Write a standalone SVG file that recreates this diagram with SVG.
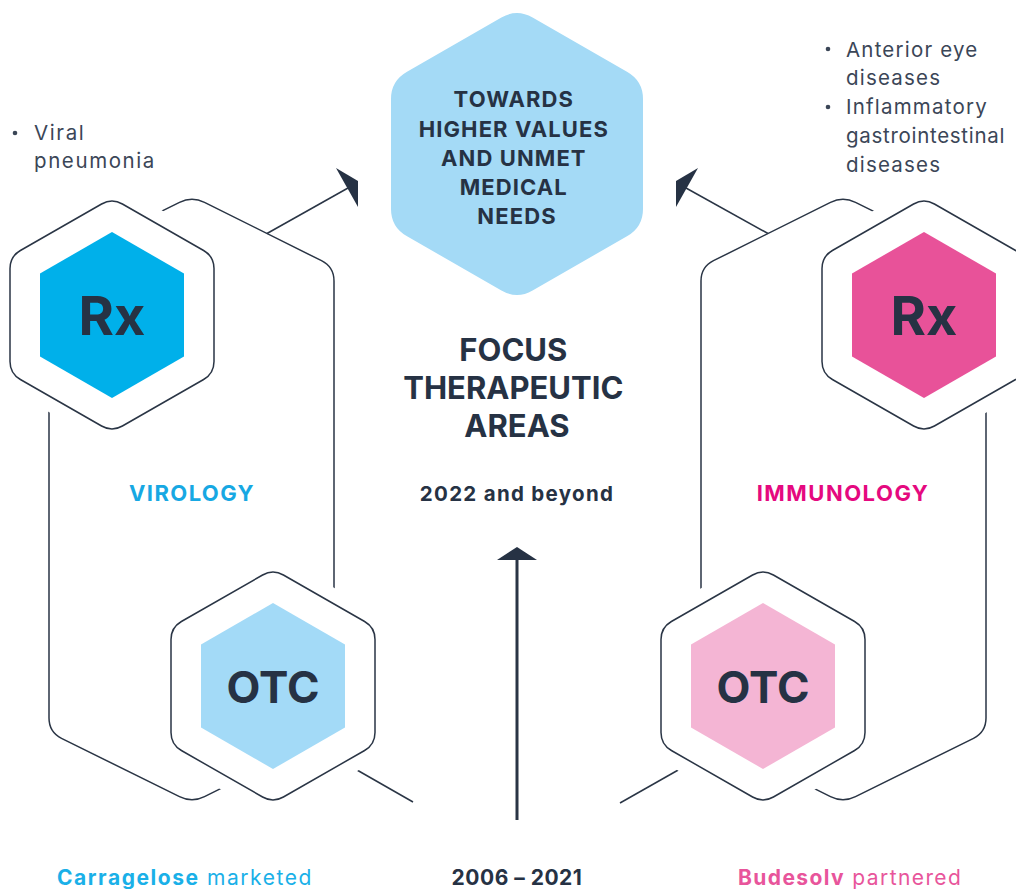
<svg xmlns="http://www.w3.org/2000/svg" xmlns:xlink="http://www.w3.org/1999/xlink" width="1016" height="889" viewBox="0 0 1016 889">
<defs>
<style>
.frame{fill:none;stroke:#2a3545;stroke-width:1.5}
.conn{fill:none;stroke:#2a3545;stroke-width:1.5}
.head{fill:#263244}
.halo{fill:#fff;stroke:#fff;stroke-width:28}
.outline{fill:none;stroke:#2a3545;stroke-width:1.5}
.t{font-family:Inter,"Liberation Sans",sans-serif;fill:#263244}
.b{font-weight:700}
.big{font-size:54px;font-weight:700;text-anchor:middle}
.otc{font-size:44px;font-weight:700;text-anchor:middle}
.bul{font-family:Inter,"Liberation Sans",sans-serif;font-size:20.5px;fill:#3b4657;letter-spacing:1.6px}
</style>
<path id="outer" d="M 10.4,-111 L 91.6,-64.5 Q 102,-58.5 102,-46.5 L 102,46.5 Q 102,58.5 91.6,64.5 L 10.4,111 Q 0,117 -10.4,111 L -91.6,64.5 Q -102,58.5 -102,46.5 L -102,-46.5 Q -102,-58.5 -91.6,-64.5 L -10.4,-111 Q 0,-117 10.4,-111 Z"/>
<polygon id="inner" points="0,-83 72,-41.5 72,41.5 0,83 -72,41.5 -72,-41.5"/>
</defs>
<rect width="1016" height="889" fill="#fff"/>

<g id="frames">
<path class="frame" d="M 204.5,202.3 L 321.5,260.7 Q 334,267 334,281 L 334,718 Q 334,732 321.5,738.3 L 204.5,796.7 Q 192,803 179.5,796.7 L 61.5,738.3 Q 49,732 49,718 L 49,281 Q 49,267 61.5,260.7 L 179.5,202.3 Q 192,196 204.5,202.3 Z"/>
<path class="frame" d="M 830.5,202.3 L 713.5,260.7 Q 701,267 701,281 L 701,718 Q 701,732 713.5,738.3 L 830.5,796.7 Q 843,803 855.5,796.7 L 973.5,738.3 Q 986,732 986,718 L 986,281 Q 986,267 973.5,260.7 L 855.5,202.3 Q 843,196 830.5,202.3 Z"/>
<line class="frame" x1="357" y1="770" x2="413" y2="802"/>
<line class="frame" x1="680" y1="769" x2="620" y2="803"/>
</g>

<g id="connectors">
<line class="conn" x1="267" y1="233.5" x2="348" y2="188"/>
<polygon class="head" points="336,168 358,181 358,207"/>
<line class="conn" x1="768" y1="233.5" x2="686" y2="188"/>
<polygon class="head" points="698,168 676,181 676,207"/>
<line class="conn" x1="517" y1="820" x2="517" y2="558" style="stroke-width:3"/>
<polygon class="head" points="497,560 517,547 537,560"/>
</g>

<g id="goal">
<path fill="#a4daf6" d="M 532.6,17.5 L 627.4,72 Q 643,81 643,99 L 643,209 Q 643,227 627.4,236 L 532.6,290.5 Q 517,299.5 501.4,290.5 L 406.6,236 Q 391,227 391,209 L 391,99 Q 391,81 406.6,72 L 501.4,17.5 Q 517,8.5 532.6,17.5 Z"/>
<text class="t b" font-size="22" text-anchor="middle" letter-spacing="1.1">
<tspan x="517" y="107">TOWARDS</tspan>
<tspan x="517" y="136.5">HIGHER VALUES</tspan>
<tspan x="517" y="166">AND UNMET</tspan>
<tspan x="517" y="195">MEDICAL</tspan>
<tspan x="517" y="224">NEEDS</tspan>
</text>
</g>

<g id="rx-virology" transform="translate(112,315)">
<use href="#outer" class="halo"/>
<use href="#outer" class="outline"/>
<use href="#inner" fill="#00b0ea"/>
<text class="t big" x="0" y="20">Rx</text>
</g>

<g id="otc-virology" transform="translate(273,686)">
<use href="#outer" class="halo"/>
<use href="#outer" class="outline"/>
<use href="#inner" fill="#a3daf7"/>
<text class="t otc" x="0" y="17">OTC</text>
</g>

<g id="rx-immunology" transform="translate(924,315)">
<use href="#outer" class="halo"/>
<use href="#outer" class="outline"/>
<use href="#inner" fill="#e85299"/>
<text class="t big" x="0" y="20">Rx</text>
</g>

<g id="otc-immunology" transform="translate(763,686)">
<use href="#outer" class="halo"/>
<use href="#outer" class="outline"/>
<use href="#inner" fill="#f4b5d4"/>
<text class="t otc" x="0" y="17">OTC</text>
</g>

<g id="labels">
<text class="t b" font-size="31" text-anchor="middle">
<tspan x="517" y="361">FOCUS</tspan>
<tspan x="517" y="399">THERAPEUTIC</tspan>
<tspan x="517" y="437">AREAS</tspan>
</text>
<text class="t b" font-size="20.5" text-anchor="middle" x="517" y="501" letter-spacing="1.3">2022 and beyond</text>
<text class="t b" font-size="22" text-anchor="middle" x="192" y="501" style="fill:#17a8e3" letter-spacing="1.4">VIROLOGY</text>
<text class="t b" font-size="22" text-anchor="middle" x="843" y="501" style="fill:#e5097f" letter-spacing="1.5">IMMUNOLOGY</text>
<text class="t b" font-size="21" text-anchor="middle" x="517" y="885" letter-spacing="0.5">2006 – 2021</text>
<text class="t" font-size="21" x="57" y="885" style="fill:#1ab0e8" letter-spacing="1.55"><tspan font-weight="700">Carragelose</tspan> marketed</text>
<text class="t" font-size="21" x="738" y="885" style="fill:#e8559b" letter-spacing="1.4"><tspan font-weight="700">Budesolv</tspan> partnered</text>
</g>

<g id="notes">
<circle cx="15" cy="133" r="2.3" fill="#3b4657"/>
<text class="bul"><tspan x="34" y="140">Viral</tspan><tspan x="34" y="168">pneumonia</tspan></text>
<circle cx="828" cy="49" r="2.3" fill="#3b4657"/>
<circle cx="828" cy="107" r="2.3" fill="#3b4657"/>
<text class="bul" style="letter-spacing:1.2px"><tspan x="846" y="57">Anterior eye</tspan><tspan x="846" y="85">diseases</tspan><tspan x="846" y="114">Inflammatory</tspan></text>
<text class="bul" style="letter-spacing:0.7px"><tspan x="846" y="143">gastrointestinal</tspan></text>
<text class="bul" style="letter-spacing:1.2px"><tspan x="846" y="172">diseases</tspan></text>
</g>
</svg>
